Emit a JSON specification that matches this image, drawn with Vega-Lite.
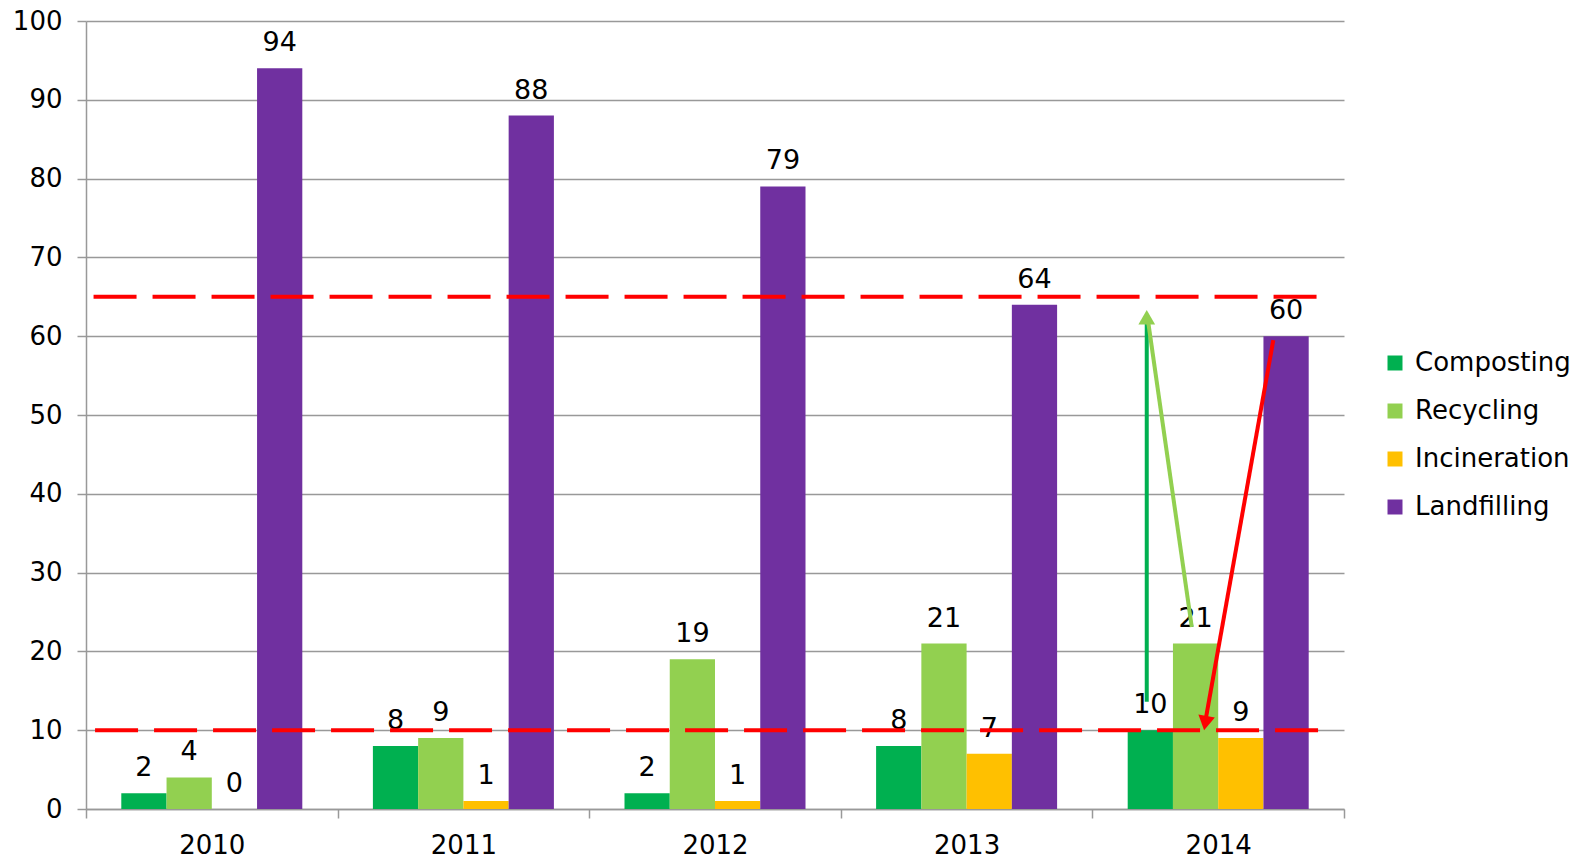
{
  "$schema": "https://vega.github.io/schema/vega-lite/v6.json",
  "autosize": "none",
  "width": 1258,
  "height": 788,
  "padding": {"left": 86, "top": 21, "right": 235, "bottom": 52},
  "background": "white",
  "config": {
    "view": {"stroke": null},
    "font": "DejaVu Sans"
  },
  "datasets": {
    "bars": [
      {"year": "2010", "cat": "Composting", "value": 2},
      {"year": "2010", "cat": "Recycling", "value": 4},
      {"year": "2010", "cat": "Incineration", "value": 0},
      {"year": "2010", "cat": "Landfilling", "value": 94},
      {"year": "2011", "cat": "Composting", "value": 8},
      {"year": "2011", "cat": "Recycling", "value": 9},
      {"year": "2011", "cat": "Incineration", "value": 1},
      {"year": "2011", "cat": "Landfilling", "value": 88},
      {"year": "2012", "cat": "Composting", "value": 2},
      {"year": "2012", "cat": "Recycling", "value": 19},
      {"year": "2012", "cat": "Incineration", "value": 1},
      {"year": "2012", "cat": "Landfilling", "value": 79},
      {"year": "2013", "cat": "Composting", "value": 8},
      {"year": "2013", "cat": "Recycling", "value": 21},
      {"year": "2013", "cat": "Incineration", "value": 7},
      {"year": "2013", "cat": "Landfilling", "value": 64},
      {"year": "2014", "cat": "Composting", "value": 10},
      {"year": "2014", "cat": "Recycling", "value": 21},
      {"year": "2014", "cat": "Incineration", "value": 9},
      {"year": "2014", "cat": "Landfilling", "value": 60}
    ],
    "refs": [
      {"x1": 0.030, "x2": 4.913, "y": 65},
      {"x1": 0.036, "x2": 4.913, "y": 10}
    ],
    "arrows": [
      {"name": "a1", "x1": 4.216, "y1": 13.6, "x2": 4.216, "y2": 62.2, "color": "#00B050"},
      {"name": "a2", "x1": 4.395, "y1": 23.1, "x2": 4.22, "y2": 62.2, "color": "#92D050"},
      {"name": "a3", "x1": 4.719, "y1": 59.5, "x2": 4.451, "y2": 11.5, "color": "#FF0000"}
    ],
    "heads": [
      {"x": 4.216, "y": 62.4, "angle": 0, "color": "#92D050"},
      {"x": 4.449, "y": 10.9, "angle": 190, "color": "#FF0000"}
    ]
  },
  "layer": [
    {
      "data": {"name": "bars"},
      "encoding": {
        "x": {
          "field": "year", "type": "nominal",
          "scale": {"paddingInner": 0, "paddingOuter": 0},
          "axis": {
            "title": null, "labelAngle": 0, "tickBand": "extent",
            "labelFontSize": 26, "labelColor": "#000", "labelFont": "DejaVu Sans",
            "tickSize": 9, "tickColor": "#999", "tickWidth": 1.5,
            "domainColor": "#999", "domainWidth": 1.5, "labelPadding": 14, "grid": false
          }
        },
        "xOffset": {
          "field": "cat", "type": "nominal",
          "sort": ["Composting", "Recycling", "Incineration", "Landfilling"],
          "scale": {"paddingInner": 0, "paddingOuter": 0.78}
        },
        "y": {
          "field": "value", "type": "quantitative",
          "scale": {"domain": [0, 100], "nice": false},
          "axis": {
            "title": null, "values": [0,10,20,30,40,50,60,70,80,90,100],
            "labelFontSize": 26, "labelColor": "#000", "labelFont": "DejaVu Sans",
            "tickSize": 9, "tickColor": "#999", "tickWidth": 1.5,
            "domainColor": "#999", "domainWidth": 1.5, "labelPadding": 15,
            "gridColor": "#999", "gridWidth": 1.5
          }
        }
      },
      "layer": [
        {
          "mark": {"type": "bar"},
          "encoding": {
            "color": {
              "field": "cat", "type": "nominal",
              "scale": {
                "domain": ["Composting", "Recycling", "Incineration", "Landfilling"],
                "range": ["#00B050", "#92D050", "#FFC000", "#7030A0"]
              },
              "legend": {
                "title": null, "orient": "none", "legendX": 1296, "legendY": 329,
                "symbolType": "square", "symbolSize": 225, "symbolStrokeWidth": 0,
                "labelFontSize": 26, "labelFont": "DejaVu Sans", "labelColor": "#000",
                "rowPadding": 22, "labelOffset": 7
              }
            }
          }
        },
        {
          "mark": {"type": "text", "baseline": "alphabetic", "dy": -17, "fontSize": 27, "font": "DejaVu Sans", "color": "#000"},
          "encoding": {"text": {"field": "value", "type": "quantitative"}}
        }
      ]
    },
    {
      "layer": [
        {
          "data": {"name": "refs"},
          "mark": {"type": "rule", "color": "#FF0000", "strokeWidth": 4, "strokeDash": [43, 16]},
          "encoding": {
            "x": {"field": "x1", "type": "quantitative", "scale": {"domain": [0, 5], "nice": false}, "axis": null},
            "x2": {"field": "x2"},
            "y": {"field": "y", "type": "quantitative"}
          }
        },
        {
          "data": {"name": "arrows"},
          "mark": {"type": "rule", "strokeWidth": 4},
          "encoding": {
            "x": {"field": "x1", "type": "quantitative", "scale": {"domain": [0, 5], "nice": false}, "axis": null},
            "x2": {"field": "x2"},
            "y": {"field": "y1", "type": "quantitative"},
            "y2": {"field": "y2"},
            "color": {"field": "color", "type": "nominal", "scale": null, "legend": null}
          }
        },
        {
          "data": {"name": "heads"},
          "mark": {"type": "point", "shape": "triangle-up", "filled": true, "size": 280, "opacity": 1},
          "encoding": {
            "x": {"field": "x", "type": "quantitative", "scale": {"domain": [0, 5], "nice": false}, "axis": null},
            "y": {"field": "y", "type": "quantitative"},
            "angle": {"field": "angle", "type": "quantitative", "scale": null},
            "color": {"field": "color", "type": "nominal", "scale": null, "legend": null}
          }
        }
      ]
    }
  ],
  "resolve": {"scale": {"x": "independent", "color": "independent"}}
}
